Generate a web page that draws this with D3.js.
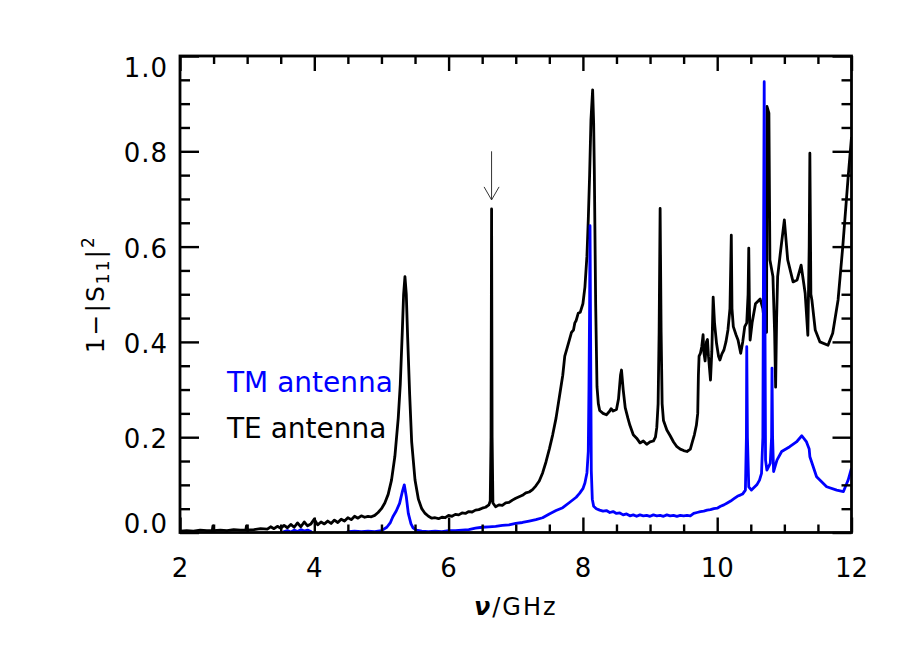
<!DOCTYPE html>
<html><head><meta charset="utf-8">
<script src="https://cdn.jsdelivr.net/npm/d3@7"></script>
<style>body{margin:0;background:#fff} svg{display:block} text{font-family:"DejaVu Sans",sans-serif}</style>
</head><body><svg id="c" width="905" height="647"></svg>
<script>
// ---- data (GHz, 1-|S11|^2) ----
const teSpectrum = [
[2.00,0.003],[2.10,0.004],[2.20,0.003],[2.30,0.005],[2.40,0.004],[2.48,0.004],[2.49,0.014],[2.50,0.004],
[2.60,0.005],[2.70,0.004],[2.80,0.006],[2.90,0.005],[2.98,0.005],[2.99,0.014],[3.00,0.005],[3.10,0.006],
[3.20,0.008],[3.30,0.007],[3.35,0.012],[3.40,0.008],[3.45,0.013],[3.50,0.009],[3.55,0.015],[3.60,0.010],
[3.65,0.017],[3.70,0.011],[3.75,0.020],[3.80,0.012],[3.85,0.022],[3.90,0.014],[3.95,0.018],[4.00,0.028],
[4.05,0.016],[4.10,0.022],[4.15,0.018],[4.20,0.024],[4.25,0.019],[4.30,0.026],[4.35,0.021],[4.40,0.028],
[4.45,0.024],[4.50,0.031],[4.55,0.027],[4.60,0.034],[4.65,0.030],[4.70,0.035],[4.75,0.032],[4.80,0.034],
[4.85,0.033],[4.90,0.036],[4.95,0.042],[5.00,0.050],[5.05,0.062],[5.10,0.080],[5.15,0.110],[5.20,0.160],
[5.25,0.240],[5.28,0.310],[5.31,0.420],[5.33,0.500],[5.35,0.537],[5.37,0.500],[5.39,0.410],[5.42,0.290],
[5.45,0.190],[5.50,0.110],[5.55,0.070],[5.60,0.050],[5.65,0.040],[5.70,0.034],[5.75,0.030],[5.80,0.031],
[5.85,0.029],[5.90,0.032],[5.95,0.031],[6.00,0.036],[6.05,0.034],[6.10,0.038],[6.15,0.037],[6.20,0.041],
[6.25,0.040],[6.30,0.044],[6.35,0.043],[6.40,0.047],[6.45,0.048],[6.50,0.051],[6.55,0.053],[6.60,0.058],
[6.62,0.066],[6.632,0.200],[6.64,0.679],[6.648,0.200],[6.66,0.062],[6.70,0.054],[6.75,0.058],[6.80,0.057],
[6.85,0.062],[6.90,0.063],[6.95,0.068],[7.00,0.072],[7.05,0.075],[7.10,0.078],[7.15,0.083],[7.20,0.085],
[7.25,0.090],[7.30,0.098],[7.35,0.108],[7.40,0.125],[7.45,0.148],[7.50,0.175],[7.55,0.205],[7.60,0.240],
[7.65,0.285],[7.70,0.330],[7.73,0.370],[7.76,0.385],[7.80,0.405],[7.83,0.420],[7.86,0.425],[7.88,0.440],
[7.90,0.445],[7.93,0.460],[7.96,0.462],[8.00,0.480],[8.03,0.515],[8.06,0.580],[8.08,0.656],[8.10,0.750],
[8.12,0.866],[8.145,0.929],[8.16,0.860],[8.17,0.761],[8.19,0.480],[8.21,0.306],[8.23,0.270],[8.25,0.256],
[8.30,0.250],[8.35,0.247],[8.40,0.255],[8.42,0.260],[8.45,0.255],[8.50,0.258],[8.53,0.280],[8.56,0.330],
[8.575,0.341],[8.60,0.300],[8.63,0.262],[8.67,0.240],[8.70,0.225],[8.75,0.205],[8.80,0.198],[8.85,0.188],
[8.90,0.192],[8.95,0.185],[9.00,0.190],[9.05,0.192],[9.08,0.200],[9.10,0.220],[9.12,0.270],[9.135,0.420],
[9.15,0.680],[9.165,0.420],[9.18,0.270],[9.20,0.235],[9.25,0.215],[9.30,0.203],[9.35,0.190],[9.40,0.180],
[9.45,0.175],[9.50,0.172],[9.55,0.170],[9.60,0.175],[9.63,0.190],[9.66,0.205],[9.69,0.225],[9.71,0.250],
[9.72,0.330],[9.73,0.370],[9.75,0.376],[9.77,0.390],[9.79,0.415],[9.80,0.380],[9.82,0.360],[9.84,0.400],
[9.855,0.405],[9.87,0.370],[9.90,0.320],[9.92,0.380],[9.94,0.494],[9.96,0.440],[9.99,0.397],[10.02,0.370],
[10.04,0.362],[10.07,0.375],[10.10,0.383],[10.13,0.400],[10.16,0.425],[10.19,0.470],[10.21,0.624],[10.22,0.470],
[10.24,0.432],[10.28,0.415],[10.31,0.404],[10.35,0.376],[10.38,0.400],[10.41,0.432],[10.44,0.440],[10.46,0.500],
[10.47,0.597],[10.48,0.470],[10.49,0.404],[10.52,0.440],[10.57,0.480],[10.64,0.490],[10.68,0.470],[10.71,0.430],
[10.735,0.420],[10.742,0.894],[10.77,0.880],[10.785,0.572],[10.83,0.537],[10.855,0.420],[10.87,0.305],[10.885,0.450],
[10.90,0.537],[10.94,0.586],[11.00,0.656],[11.05,0.572],[11.13,0.526],[11.19,0.530],[11.25,0.561],[11.31,0.502],
[11.35,0.414],[11.37,0.600],[11.38,0.796],[11.395,0.500],[11.41,0.488],[11.46,0.425],[11.53,0.400],[11.65,0.393],
[11.72,0.418],[11.80,0.488],[11.87,0.600],[11.95,0.746],[12.00,0.830]
];
const tmSpectrum = [
[2.00,-0.01],[3.50,-0.01],[3.55,0.002],[3.60,0.004],[3.65,0.001],[3.70,0.005],[3.75,0.002],[3.80,0.006],
[3.85,0.003],[3.90,0.005],[3.95,0.002],[4.00,-0.01],[4.45,-0.01],[4.50,0.002],[4.60,0.003],[4.70,0.002],
[4.80,0.003],[4.90,0.002],[5.00,0.004],[5.08,0.011],[5.13,0.020],[5.17,0.033],[5.22,0.045],[5.27,0.061],
[5.31,0.085],[5.34,0.100],[5.37,0.075],[5.40,0.040],[5.44,0.018],[5.47,0.010],[5.52,0.005],[5.60,0.003],
[5.70,0.002],[5.80,0.003],[5.90,0.002],[6.00,0.004],[6.10,0.004],[6.20,0.005],[6.30,0.006],[6.40,0.009],
[6.50,0.011],[6.60,0.012],[6.70,0.013],[6.80,0.015],[6.90,0.016],[7.00,0.019],[7.10,0.021],[7.20,0.024],
[7.30,0.027],[7.40,0.031],[7.50,0.039],[7.60,0.046],[7.70,0.052],[7.80,0.063],[7.90,0.074],[7.95,0.082],
[8.00,0.092],[8.03,0.104],[8.06,0.125],[8.08,0.170],[8.09,0.300],[8.10,0.480],[8.106,0.644],[8.115,0.410],
[8.125,0.130],[8.14,0.070],[8.16,0.055],[8.20,0.050],[8.25,0.047],[8.30,0.045],[8.35,0.046],[8.40,0.042],
[8.45,0.044],[8.50,0.040],[8.55,0.041],[8.60,0.037],[8.65,0.039],[8.70,0.035],[8.75,0.037],[8.80,0.034],
[8.85,0.037],[8.90,0.035],[8.95,0.036],[9.00,0.034],[9.05,0.037],[9.10,0.035],[9.15,0.036],[9.20,0.034],
[9.25,0.037],[9.30,0.035],[9.35,0.036],[9.40,0.034],[9.45,0.036],[9.50,0.035],[9.55,0.036],[9.60,0.035],
[9.65,0.040],[9.70,0.042],[9.75,0.044],[9.80,0.045],[9.85,0.047],[9.90,0.048],[9.95,0.050],[10.00,0.051],
[10.05,0.055],[10.10,0.058],[10.15,0.062],[10.20,0.066],[10.25,0.071],[10.30,0.076],[10.35,0.079],[10.38,0.081],
[10.42,0.089],[10.435,0.200],[10.44,0.390],[10.45,0.200],[10.47,0.096],[10.51,0.089],[10.59,0.100],[10.63,0.110],
[10.66,0.124],[10.68,0.200],[10.69,0.600],[10.70,0.946],[10.71,0.500],[10.72,0.152],[10.74,0.131],[10.79,0.145],
[10.81,0.200],[10.816,0.345],[10.825,0.200],[10.84,0.128],[10.89,0.152],[10.96,0.170],[11.08,0.180],[11.18,0.190],
[11.26,0.203],[11.33,0.190],[11.37,0.175],[11.38,0.159],[11.48,0.117],[11.63,0.096],[11.78,0.089],[11.88,0.086],
[11.95,0.110],[12.00,0.135]
];
const xMajor = [2,4,6,8,10,12];
const yMajor = [0.0,0.2,0.4,0.6,0.8,1.0];
const seriesNames = ["TM antenna","TE antenna"];
const seriesColors = ["#0000ff","#000000"];
const arrowFreq = 6.64, arrowTop = 0.80, arrowTip = 0.698;

// ---- layout ----
const svg = d3.select("#c");
const L=180, R=851.5, T=56, B=532.5;
const x = d3.scaleLinear().domain([2,12]).range([L,R]);
const y = d3.scaleLinear().domain([0,1]).range([B,T]);

svg.append("defs").append("clipPath").attr("id","clip")
  .append("rect").attr("x",L).attr("y",T).attr("width",R-L).attr("height",B-T);

const line = d3.line().x(d=>x(d[0])).y(d=>y(d[1]));
const g = svg.append("g").attr("clip-path","url(#clip)");
g.append("path").datum(teSpectrum).attr("d",line).attr("fill","none")
  .attr("stroke",seriesColors[1]).attr("stroke-width",2.8).attr("stroke-linejoin","round");
g.append("path").datum(tmSpectrum).attr("d",line).attr("fill","none")
  .attr("stroke",seriesColors[0]).attr("stroke-width",2.8).attr("stroke-linejoin","round");

// ticks
const xMinor = d3.range(2,12.001,0.5).filter(v=>!xMajor.includes(v));
const yMinor = d3.range(0,1.0001,0.05).map(v=>+v.toFixed(2)).filter(v=>!yMajor.some(m=>Math.abs(m-v)<1e-6));
function tickAxis(gen, vals, size, tr){
  const a = svg.append("g").attr("transform",tr)
    .call(gen.tickValues(vals).tickSize(size).tickFormat(""));
  a.select(".domain").remove();
  a.selectAll("line").attr("stroke","#000").attr("stroke-width",2.4);
}
tickAxis(d3.axisBottom(x), xMajor, -15, `translate(0,${B})`);
tickAxis(d3.axisBottom(x), xMinor, -8, `translate(0,${B})`);
tickAxis(d3.axisTop(x), xMajor, -15, `translate(0,${T})`);
tickAxis(d3.axisTop(x), xMinor, -8, `translate(0,${T})`);
tickAxis(d3.axisLeft(y), yMajor, -19, `translate(${L},0)`);
tickAxis(d3.axisLeft(y), yMinor, -10, `translate(${L},0)`);
tickAxis(d3.axisRight(y), yMajor, -19, `translate(${R},0)`);
tickAxis(d3.axisRight(y), yMinor, -10, `translate(${R},0)`);

svg.append("rect").attr("x",L).attr("y",T).attr("width",R-L).attr("height",B-T)
  .attr("fill","none").attr("stroke","#000").attr("stroke-width",2.8);

// tick labels
svg.append("g").selectAll("text").data(xMajor).join("text")
  .attr("x",d=>x(d)).attr("y",B+44).attr("text-anchor","middle")
  .attr("font-size",26).text(d=>d);
svg.append("g").selectAll("text").data(yMajor).join("text")
  .attr("x",L-12).attr("y",d=>y(d)+(d===0?0:(d===1?21:11)))
  .attr("text-anchor","end").attr("font-size",26).attr("letter-spacing",1).text(d=>d.toFixed(1));

// axis titles
const xt = svg.append("text").attr("x",(L+R)/2).attr("y",615).attr("text-anchor","middle")
  .attr("font-size",24).attr("letter-spacing",2);
xt.append("tspan").attr("font-style","italic").attr("font-weight","bold").text("ν");
xt.append("tspan").text("/GHz");

const yt = svg.append("text").attr("transform",`translate(104,${(T+B)/2}) rotate(-90)`)
  .attr("text-anchor","middle").attr("font-size",25).attr("letter-spacing",2);
yt.append("tspan").text("1−|S");
yt.append("tspan").attr("font-size",17).attr("dy",5).text("11");
yt.append("tspan").attr("dy",-5).text("|");
yt.append("tspan").attr("font-size",17).attr("dy",-10).text("2");

// legend
svg.append("g").selectAll("text").data(seriesNames).join("text")
  .attr("x",227).attr("y",(d,i)=>392+i*46).attr("font-size",28)
  .attr("fill",(d,i)=>seriesColors[i]).text(d=>d);

// arrow
const ax = x(arrowFreq), ay0 = y(arrowTop), ay1 = y(arrowTip);
svg.append("path").attr("d",`M${ax},${ay0}V${ay1}M${ax-7.5},${ay1-13}L${ax},${ay1}L${ax+7.5},${ay1-13}`)
  .attr("fill","none").attr("stroke","#333").attr("stroke-width",1);
</script></body></html>
